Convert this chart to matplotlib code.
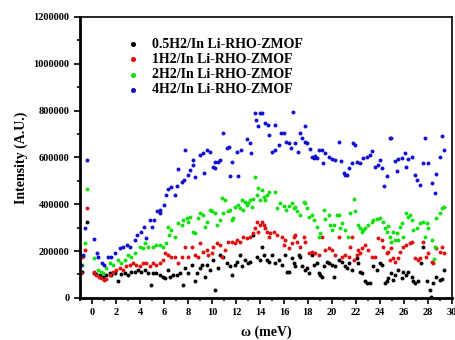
import matplotlib
matplotlib.use("Agg")
import matplotlib.pyplot as plt
from matplotlib.ticker import MultipleLocator, FuncFormatter

# Data (energy in meV, intensity in thousands).
labels = ["0.5H2/In Li-RHO-ZMOF", "1H2/In Li-RHO-ZMOF",
          "2H2/In Li-RHO-ZMOF", "4H2/In Li-RHO-ZMOF"]
colors = ["#000000", "#e01010", "#10e010", "#1010d0"]

black_x = [-0.85, -0.75, -0.4, 0.17, 0.36, 0.64, 0.92, 1.19, 1.47, 1.61, 1.89, 2.17, 2.44, 2.72, 3.0,
           3.28, 3.55, 3.83, 4.11, 4.39, 4.67, 4.94, 5.08, 5.36, 5.64, 5.92, 6.11, 6.33, 6.47, 6.75,
           7.06, 7.33, 7.61, 7.75, 8.03, 8.31, 8.58, 8.72, 9.0, 9.14, 9.42, 9.56, 9.83, 10.11, 10.25,
           10.53, 10.67, 10.94, 11.22, 11.5, 11.64, 11.92, 12.06, 12.33, 12.47, 12.75, 13.03, 13.17,
           13.44, 13.72, 14.0, 14.17, 14.31, 14.59, 14.72, 15.0, 15.28, 15.56, 15.84, 16.11, 16.25,
           16.39, 16.67, 16.81, 16.95, 17.22, 17.36, 17.5, 17.78, 17.92, 18.06, 18.34, 18.47, 18.75,
           18.89, 19.03, 19.17, 19.31, 19.59, 19.72, 20.0, 20.14, 20.28, 20.56, 20.84, 21.11, 21.25,
           21.45, 21.67, 22.06, 22.2, 22.34, 22.48, 22.75, 22.89, 23.17, 23.45, 23.73, 24.0, 24.14,
           24.42, 24.56, 24.7, 24.97, 25.11, 25.25, 25.53, 25.81, 25.95, 26.22, 26.36, 26.64, 26.78,
           26.92, 27.2, 27.47, 27.61, 27.89, 28.17, 28.3, 28.45, 28.72, 29.0, 29.2, 29.36]
black_y = [110, 180, 322, 105, 102, 98, 91, 98, 105, 98, 105, 70, 102, 105, 98,
           112, 112, 117, 112, 117, 108, 55, 105, 105, 98, 91, 84, 120, 91, 98,
           98, 105, 55, 127, 105, 141, 70, 105, 127, 141, 91, 141, 120, 162, 34,
           127, 184, 176, 148, 134, 98, 141, 155, 184, 134, 162, 148, 155,
           269, 176, 162, 219, 184, 162, 155, 184, 148, 162, 141, 184, 112,
           112, 169, 148, 134, 184, 176, 134, 120, 127, 105, 184, 141, 148,
           105, 98, 91, 134, 155, 148, 141, 91, 134, 162, 155, 134, 127,
           148, 120, 169, 148, 112, 105, 70, 65, 63, 134, 120, 148, 141,
           63, 70, 84, 105, 77, 98, 120, 84, 112, 98, 112, 91, 70,
           63, 70, 148, 219, 70, 34, 5, 63, 91, 77, 79, 120]

red_x = [-0.89, -0.8, -0.61, -0.42, 0.17, 0.36, 0.56, 0.78, 1.0, 1.19, 1.47, 1.75, 2.03, 2.3, 2.58,
         2.86, 3.14, 3.42, 3.69, 3.97, 4.25, 4.53, 4.8, 5.08, 5.36, 5.64, 5.92, 6.11, 6.33, 6.61,
         6.92, 7.19, 7.47, 7.75, 8.03, 8.31, 8.58, 8.86, 9.0, 9.28, 9.56, 9.69, 9.97, 10.11, 10.39,
         10.67, 10.81, 11.08, 11.36, 11.64, 11.92, 12.06, 12.33, 12.61, 12.89, 13.17, 13.39, 13.58,
         13.78, 13.86, 14.0, 14.17, 14.31, 14.45, 14.59, 14.72, 14.86, 15.14, 15.42, 15.84, 15.97,
         16.11, 16.39, 16.67, 16.81, 16.95, 17.09, 17.36, 17.64, 17.78, 18.06, 18.34, 18.61, 18.89,
         19.17, 19.45, 19.72, 20.0, 20.28, 20.56, 20.84, 21.11, 21.39, 21.53, 21.67, 21.81,
         22.06, 22.2, 22.34, 22.48, 22.75, 23.03, 23.31, 23.59, 23.86, 24.14, 24.28, 24.56, 24.7,
         24.84, 24.97, 25.11, 25.25, 25.53, 25.67, 25.95, 26.22, 26.5, 26.64, 26.92, 27.2, 27.34,
         27.61, 27.81, 28.03, 28.31, 28.45, 28.72, 29.0, 29.2, 29.36]
red_y = [105, 176, 205, 383, 112, 98, 91, 84, 77, 80, 98, 112, 120, 127, 120,
         134, 141, 148, 141, 134, 148, 148, 134, 148, 141, 148, 162, 191, 184, 176,
         176, 148, 176, 219, 176, 219, 184, 176, 233, 198, 205, 184, 191, 219, 233,
         226, 176, 205, 240, 240, 233, 248, 240, 262, 255, 262, 276, 298,
         326, 283, 312, 326, 312, 298, 283, 262, 276, 283, 269, 262, 226,
         248, 212, 233, 262, 269, 240, 219, 262, 240, 191, 198, 191, 184,
         262, 205, 212, 205, 184, 262, 176, 184, 176, 219, 262, 162,
         184, 205, 191, 212, 226, 205, 176, 176, 255, 248, 219, 191, 198,
         162, 212, 169, 155, 169, 198, 219, 226, 233, 240, 169, 162, 169,
         240, 176, 191, 155, 148, 212, 198, 219, 191]

green_x = [-0.8, -0.61, -0.42, 0.17, 0.5, 0.72, 0.92, 1.19, 1.47, 1.75, 2.17, 2.44, 2.72, 3.0, 3.28,
           3.55, 3.97, 4.25, 4.39, 4.67, 5.08, 5.36, 5.64, 5.92, 6.19, 6.33, 6.45, 6.61,
           6.92, 7.19, 7.47, 7.61, 7.89, 8.03, 8.17, 8.44, 8.58, 8.86, 9.0, 9.28, 9.42, 9.56, 9.83,
           9.97, 10.25, 10.39, 10.67, 10.81, 10.94, 11.08, 11.36, 11.5, 11.64, 11.78, 11.92, 12.19,
           12.33, 12.47, 12.61, 12.75, 12.89, 13.03, 13.17, 13.31, 13.44, 13.58, 13.78, 13.86, 14.0,
           14.17, 14.31, 14.45, 14.59, 14.72, 15.22, 15.42, 15.7, 15.97, 16.17, 16.39, 16.67, 16.81,
           16.95, 17.09, 17.36, 17.64, 17.78, 17.92, 18.06, 18.34, 18.47, 18.75, 18.89, 19.03, 19.31,
           19.45, 19.72, 19.86, 20.0, 20.14, 20.42, 20.56, 20.7, 20.84, 21.11, 21.34, 21.53, 21.81,
           21.95, 22.2, 22.34, 22.48, 22.61, 22.75, 23.03, 23.31, 23.45, 23.73, 24.0, 24.28, 24.42,
           24.56, 24.7, 24.84, 24.97, 25.11, 25.25, 25.39, 25.53, 25.67, 25.81, 25.95, 26.22, 26.36,
           26.5, 26.64, 26.78, 27.06, 27.34, 27.61, 27.75, 27.89, 28.03, 28.31, 28.5, 28.59, 28.72,
           29.0, 29.14, 29.36]
green_y = [141, 233, 464, 169, 120, 112, 107, 127, 148, 141, 162, 148, 162, 184, 176,
           191, 219, 212, 233, 219, 219, 226, 226, 219, 233, 304, 269, 290,
           262, 319, 312, 333, 340, 326, 345, 283, 276, 340, 362, 354, 304, 326, 376,
           369, 362, 312, 333, 426, 362, 418, 369, 376, 333, 340, 390, 397,
           383, 418, 376, 411, 397, 404, 418, 390, 421, 518, 440, 468, 418,
           461, 433, 418, 440, 454, 454, 383, 404, 393, 376, 393, 404, 383,
           390, 369, 354, 411, 404, 383, 347, 354, 333, 304, 262, 276, 376,
           336, 354, 312, 290, 312, 354, 354, 298, 319, 290, 262, 364, 421,
           369, 312, 298, 283, 290, 298, 312, 326, 333, 336, 340, 326, 298,
           283, 307, 262, 240, 283, 248, 279, 248, 304, 319, 262, 362, 345,
           354, 333, 290, 298, 319, 322, 262, 319, 298, 248, 165, 219, 340,
           362, 383, 390]

blue_x = [-0.9, -0.74, -0.61, -0.42, 0.17, 0.4, 0.5, 0.83, 1.0, 1.33, 1.6, 1.88, 2.3, 2.6, 2.94,
          3.2, 3.55, 3.78, 4.06, 4.33, 4.5, 4.8, 5.0, 5.2, 5.4, 5.64, 5.7, 6.0, 6.2, 6.3, 6.6,
          6.92, 7.06, 7.2, 7.47, 7.67, 7.75, 8.0, 8.17, 8.44, 8.44, 8.58, 9.0, 9.28, 9.36, 9.56,
          9.83, 10.06, 10.25, 10.25, 10.53, 10.67, 10.94, 11.22, 11.44, 11.5, 11.7, 12.06, 12.2,
          12.42, 12.89, 13.17, 13.25, 13.58, 13.67, 13.86, 14.0, 14.17, 14.45, 14.67, 15.22, 14.72,
          15.0, 15.28, 15.56, 15.75, 15.97, 16.17, 16.39, 16.61, 16.72, 16.95, 17.17, 17.36, 17.5,
          17.72, 17.78, 17.92, 18.2, 18.34, 18.47, 18.61, 18.75, 18.95, 19.17, 19.22, 19.45, 19.72,
          20.0, 20.28, 20.56, 20.75, 20.97, 21.1, 21.25, 21.45, 21.67, 21.8, 21.92, 22.06, 22.33,
          22.6, 22.9, 23.17, 23.36, 23.58, 23.81, 24.0, 24.14, 24.36, 24.56, 24.84, 24.97, 25.25,
          25.39, 25.53, 25.81, 26.09, 26.22, 26.36, 26.7, 26.92, 27.06, 27.34, 27.61, 27.75, 28.03,
          28.36, 28.58, 28.72, 29.0, 29.2, 29.36]
blue_y = [140, 181, 298, 589, 250, 190, 175, 148, 141, 176, 176, 191, 212, 219, 225,
          219, 248, 269, 283, 304, 255, 333, 304, 333, 369, 376, 362, 397, 440, 464, 475,
          440, 478, 551, 497, 505, 632, 525, 547, 568, 589, 515, 611, 618, 532, 632,
          625, 561, 554, 582, 582, 589, 703, 639, 646, 521, 582, 625, 521,
          632, 678, 663, 620, 791, 760, 734, 789, 791, 749, 739, 739, 696,
          625, 632, 653, 703, 706, 668, 660, 639, 796, 660, 625, 703, 682,
          734, 668, 660, 635, 603, 596, 606, 596, 632, 632, 575, 618, 603,
          592, 589, 668, 586, 532, 525, 525, 554, 575, 660, 653, 582, 575,
          596, 601, 611, 629, 561, 568, 589, 554, 478, 521, 682, 682, 586,
          544, 592, 596, 620, 561, 592, 601, 525, 504, 482, 575, 682, 578,
          490, 450, 529, 603, 692, 632]

series_x = [black_x, red_x, green_x, blue_x]
series_y = [black_y, red_y, green_y, blue_y]

plt.rcParams["font.family"] = ["Liberation Serif", "DejaVu Serif"]
plt.rcParams["font.weight"] = "bold"

fig = plt.figure(figsize=(4.55, 3.4), dpi=100)
ax = fig.add_axes([0.176, 0.124, 0.817, 0.826])

for xs, ys, c, lab in zip(series_x, series_y, colors, labels):
    ax.scatter(xs, [v * 1000 for v in ys], s=8, color=c, label=lab, linewidths=0)

ax.set_xlim(-1, 30)
ax.set_ylim(0, 1200000)
ax.xaxis.set_major_locator(MultipleLocator(2))
ax.xaxis.set_minor_locator(MultipleLocator(1))
ax.yaxis.set_major_locator(MultipleLocator(200000))
ax.yaxis.set_minor_locator(MultipleLocator(100000))
ax.yaxis.set_major_formatter(FuncFormatter(lambda v, p: "%d" % v))
ax.tick_params(which="both", direction="out", width=1.2, labelsize=7.5)
ax.tick_params(which="major", length=4)
ax.tick_params(which="minor", length=2.5)
for lbl in ax.get_xticklabels() + ax.get_yticklabels():
    lbl.set_fontweight("bold")
for side in ["left", "bottom"]:
    ax.spines[side].set_linewidth(2)
for side in ["top", "right"]:
    ax.spines[side].set_linewidth(1.2)

ax.set_xlabel("ω (meV)", fontsize=10, fontweight="bold", labelpad=6)
ax.set_ylabel("Intensity (A.U.)", fontsize=10, fontweight="bold", labelpad=4)

leg = ax.legend(loc="upper left", bbox_to_anchor=(0.1, 0.945), frameon=False,
                handletextpad=0.6, labelspacing=0.15, markerscale=1.3,
                borderaxespad=0, handlelength=1.5, prop={"weight": "bold", "size": 10})

fig.savefig("out.png", dpi=100)
